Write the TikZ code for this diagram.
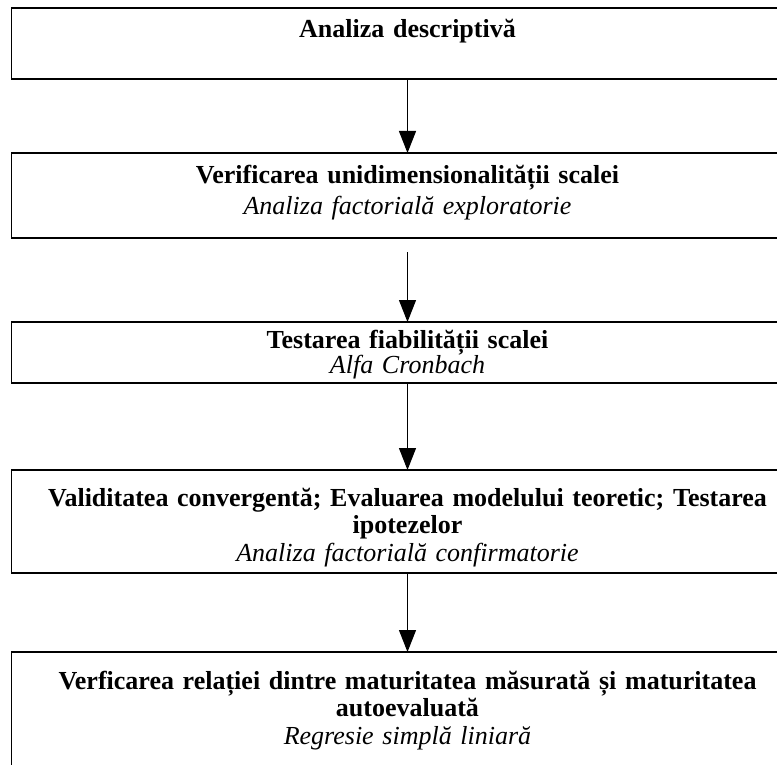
\documentclass[tikz,border=0pt]{standalone}
\usepackage{fontspec}
\setmainfont{Liberation Serif}
\usetikzlibrary{positioning,arrows.meta}
\begin{document}
\begin{tikzpicture}[x=1pt, y=1pt,
  stage/.style={draw, line width=1.3pt, rectangle, anchor=north,
    inner xsep=16pt, inner ysep=0pt, outer sep=0pt,
    text width=760pt, align=center,
    font=\fontsize{26}{27.5}\selectfont\bfseries},
  flow/.style={line width=1.2pt, -{Triangle[width=17pt,length=22pt]}}]
  \useasboundingbox (0,0) rectangle (777,-765);
  \clip (0,0) rectangle (777,-765);
  \node[stage, text height=30pt, text depth=41pt] (desc) at (407.5,-8)
    {Analiza descriptivă};
  \node[stage, text height=31pt, text depth=54pt, below=74pt of desc] (unidim)
    {Verificarea unidimensionalității scalei\\[3pt]
     \textit{\mdseries Analiza factorială exploratorie}};
  \node[stage, text height=26pt, text depth=35pt, below=84pt of unidim] (fiab)
    {Testarea fiabilității scalei\\[-2pt]
     \textit{\mdseries Alfa Cronbach}};
  \node[stage, text height=36pt, text depth=67pt, below=87pt of fiab] (valid)
    {Validitatea convergentă; Evaluarea modelului teoretic; Testarea\\
     ipotezelor\\
     \textit{\mdseries Analiza factorială confirmatorie}};
  \node[stage, text height=37pt, text depth=80pt, below=79pt of valid] (regr)
    {Verficarea relației dintre maturitatea măsurată și maturitatea\\
     autoevaluată\\
     \textit{\mdseries Regresie simplă liniară}};
  % connectors
  \draw[flow] (desc.south) -- (unidim.north);
  \draw[flow] ([yshift=-14pt]unidim.south) -- (fiab.north);
  \draw[flow] (fiab.south) -- (valid.north);
  \draw[flow] (valid.south) -- (regr.north);
\end{tikzpicture}
\end{document}
